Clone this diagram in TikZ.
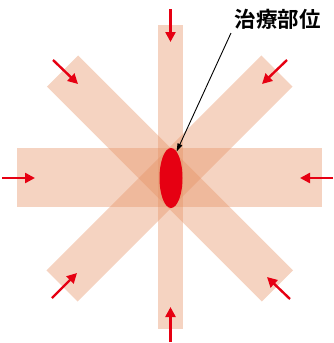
\documentclass[tikz,border=0pt]{standalone}
\usepackage{fontspec}
\newfontfamily\cjk{Noto Sans CJK JP}[UprightFont=* Bold]
\usetikzlibrary{arrows.meta,shapes.geometric}
\definecolor{beamc}{RGB}{230,145,100}
\definecolor{redc}{RGB}{230,0,18}
\tikzset{
  beam/.style={fill=beamc,fill opacity=0.4,draw=none,inner sep=0pt,rectangle},
  inarrow/.style={draw=redc,line width=2.4pt,-{Triangle[length=10pt,width=10pt]}},
  leader/.style={draw=black,line width=0.9pt,-{Triangle[length=8pt,width=5pt]}}
}
\begin{document}
\begin{tikzpicture}[x=1pt,y=-1pt]
\useasboundingbox (0,0) rectangle (334,343);
\node[beam,minimum width=305pt,minimum height=59pt] (hbeam) at (169.5,177.5) {};
\node[beam,minimum width=304pt,minimum height=44pt,rotate=45] (d1beam) at (169.5,178.5) {};
\node[beam,minimum width=304pt,minimum height=44pt,rotate=-45] (d2beam) at (170,178.5) {};
\node[beam,minimum width=25pt,minimum height=304pt] (vbeam) at (170.5,177) {};
\node[ellipse,fill=redc,draw=none,minimum width=23pt,minimum height=60pt,inner sep=0pt] (ell) at (171,178) {};
\node[inner sep=0pt,anchor=center] (lbl) at (277.5,19.5) {\cjk\fontsize{21.5pt}{25pt}\selectfont 治療部位};
% red arrows
\coordinate (t0) at (170.5,9);   \coordinate (t1) at (170.5,42);
\coordinate (b0) at (170.5,342); \coordinate (b1) at (170.5,307);
\coordinate (l0) at (2,178);     \coordinate (l1) at (35,178);
\coordinate (r0) at (333,178);   \coordinate (r1) at (300,178);
\coordinate (ul0) at (53,60);    \coordinate (ul1) at (78,84);
\coordinate (ur0) at (287,60);   \coordinate (ur1) at (262,84);
\coordinate (ll0) at (52,298);   \coordinate (ll1) at (77,273);
\coordinate (lr0) at (290,299);  \coordinate (lr1) at (267,277);
\foreach \p in {t,b,l,r,ul,ur,ll,lr}{\draw[inarrow] (\p0) -- (\p1);}
% leader
\coordinate (lstart) at (231,33);
\draw[leader] (lstart) -- (ell.78);
\end{tikzpicture}
\end{document}
